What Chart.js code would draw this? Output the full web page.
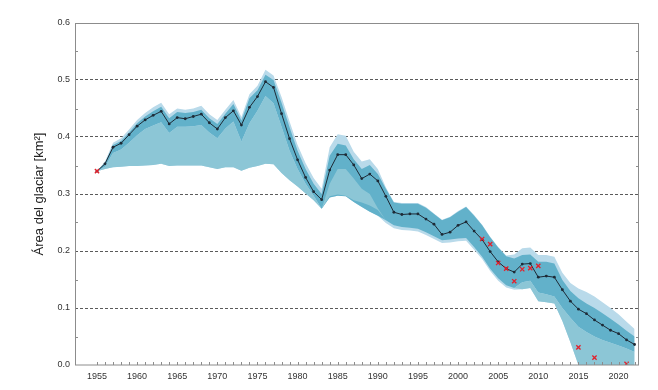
<!DOCTYPE html>
<html>
<head>
<meta charset="utf-8">
<script src="https://cdn.jsdelivr.net/npm/chart.js@4.4.0/dist/chart.umd.min.js"></script>
<style>
  body { margin: 0; background: #fff; }
  canvas { display: block; }
</style>
</head>
<body>
<canvas id="areaGlaciar" width="658" height="390"></canvas>
<script>
// años del modelo (1955-2022)
var years = []
for (var a = 1955; a <= 2022; a++) years.push(a)

// área modelada (línea negra)
var area = [
  0.340, 0.353, 0.382, 0.389, 0.404, 0.419, 0.430, 0.438, 0.445, 0.423,
  0.434, 0.432, 0.436, 0.440, 0.425, 0.414, 0.434, 0.446, 0.421, 0.452,
  0.471, 0.497, 0.487, 0.441, 0.397, 0.360, 0.329, 0.304, 0.290, 0.342,
  0.369, 0.369, 0.351, 0.327, 0.335, 0.323, 0.296, 0.268, 0.264, 0.265,
  0.265, 0.256, 0.247, 0.229, 0.233, 0.245, 0.251, 0.235, 0.220, 0.199,
  0.181, 0.169, 0.163, 0.177, 0.178, 0.154, 0.156, 0.154, 0.132, 0.112,
  0.098, 0.090, 0.079, 0.070, 0.061, 0.055, 0.044, 0.036
]

// banda exterior (celeste claro)
var outerTop = [
  0.340, 0.357, 0.390, 0.398, 0.413, 0.430, 0.442, 0.452, 0.460, 0.440,
  0.450, 0.448, 0.450, 0.455, 0.440, 0.430, 0.448, 0.465, 0.435, 0.475,
  0.490, 0.518, 0.508, 0.470, 0.427, 0.386, 0.354, 0.328, 0.309, 0.382,
  0.405, 0.402, 0.374, 0.357, 0.361, 0.344, 0.312, 0.286, 0.284, 0.284,
  0.284, 0.277, 0.266, 0.255, 0.260, 0.270, 0.278, 0.263, 0.246, 0.225,
  0.207, 0.192, 0.194, 0.205, 0.206, 0.193, 0.193, 0.190, 0.162, 0.144,
  0.134, 0.128, 0.120, 0.110, 0.100, 0.089, 0.076, 0.063
]
var outerBottom = [
  0.340, 0.344, 0.347, 0.348, 0.349, 0.349, 0.350, 0.351, 0.353, 0.349,
  0.350, 0.350, 0.350, 0.350, 0.347, 0.344, 0.347, 0.347, 0.341, 0.346,
  0.349, 0.353, 0.352, 0.337, 0.324, 0.313, 0.301, 0.289, 0.274, 0.294,
  0.297, 0.296, 0.286, 0.277, 0.269, 0.262, 0.249, 0.240, 0.237, 0.236,
  0.234, 0.228, 0.221, 0.214, 0.215, 0.217, 0.218, 0.202, 0.186, 0.165,
  0.148, 0.136, 0.132, 0.133, 0.135, 0.112, 0.110, 0.108, 0.077, 0.040,
  0, 0, 0, 0, 0, 0, 0, 0
]

// banda oscura alrededor de la línea
var darkTop = [
  0.340, 0.355, 0.386, 0.393, 0.408, 0.424, 0.436, 0.445, 0.453, 0.433,
  0.444, 0.442, 0.444, 0.448, 0.433, 0.423, 0.441, 0.458, 0.429, 0.468,
  0.482, 0.509, 0.500, 0.460, 0.417, 0.376, 0.344, 0.318, 0.300, 0.367,
  0.388, 0.385, 0.361, 0.344, 0.351, 0.335, 0.309, 0.285, 0.283, 0.283,
  0.283, 0.276, 0.265, 0.254, 0.259, 0.269, 0.277, 0.262, 0.245, 0.224,
  0.206, 0.191, 0.187, 0.193, 0.194, 0.181, 0.181, 0.178, 0.149, 0.130,
  0.117, 0.108, 0.100, 0.091, 0.081, 0.071, 0.060, 0.050
]
var darkBottom = [
  0.340, 0.348, 0.372, 0.378, 0.390, 0.403, 0.414, 0.420, 0.426, 0.407,
  0.418, 0.418, 0.419, 0.421, 0.408, 0.398, 0.415, 0.427, 0.392, 0.424,
  0.446, 0.472, 0.459, 0.418, 0.376, 0.344, 0.318, 0.297, 0.274, 0.294,
  0.297, 0.296, 0.286, 0.277, 0.269, 0.262, 0.254, 0.245, 0.242, 0.241,
  0.239, 0.233, 0.226, 0.219, 0.220, 0.222, 0.223, 0.207, 0.190, 0.169,
  0.152, 0.140, 0.135, 0.145, 0.148, 0.127, 0.124, 0.120, 0.100, 0.083,
  0.067, 0.058, 0.050, 0.044, 0.039, 0.034, 0.029, 0.023
]

// banda intermedia (debajo / dentro de la oscura)
var midTop = [
  0.340, 0.348, 0.372, 0.378, 0.390, 0.403, 0.414, 0.420, 0.426, 0.407,
  0.418, 0.418, 0.419, 0.421, 0.408, 0.398, 0.415, 0.427, 0.392, 0.424,
  0.446, 0.472, 0.459, 0.418, 0.376, 0.344, 0.318, 0.297, 0.274, 0.318,
  0.344, 0.344, 0.327, 0.309, 0.300, 0.275, 0.254, 0.245, 0.242, 0.241,
  0.239, 0.233, 0.226, 0.219, 0.220, 0.222, 0.223, 0.207, 0.190, 0.169,
  0.152, 0.140, 0.135, 0.145, 0.148, 0.127, 0.124, 0.120, 0.100, 0.083,
  0.067, 0.058, 0.050, 0.044, 0.039, 0.034, 0.029, 0.023
]
var midBottom = [
  0.340, 0.344, 0.347, 0.348, 0.349, 0.349, 0.350, 0.351, 0.353, 0.349,
  0.350, 0.350, 0.350, 0.350, 0.347, 0.344, 0.347, 0.347, 0.341, 0.346,
  0.349, 0.353, 0.352, 0.337, 0.324, 0.313, 0.301, 0.289, 0.274, 0.296,
  0.299, 0.297, 0.289, 0.285, 0.280, 0.272, 0.254, 0.245, 0.242, 0.241,
  0.239, 0.233, 0.226, 0.219, 0.220, 0.222, 0.223, 0.207, 0.190, 0.169,
  0.152, 0.140, 0.135, 0.133, 0.135, 0.112, 0.110, 0.108, 0.077, 0.040,
  0, 0, 0, 0, 0, 0, 0, 0
]

// áreas observadas (cruces rojas)
var obsYears = [1955, 2003, 2004, 2005, 2006, 2007, 2008, 2009, 2010, 2015, 2017, 2021]
var obsArea = [0.340, 0.221, 0.212, 0.179, 0.169, 0.147, 0.168, 0.170, 0.174, 0.031, 0.013, 0.002]

// ticks
var xTicks = [1955, 1960, 1965, 1970, 1975, 1980, 1985, 1990, 1995, 2000, 2005, 2010, 2015, 2020]
var yTicks = [0, 0.1, 0.2, 0.3, 0.4, 0.5, 0.6]
var yMinorTicks = [0.05, 0.15, 0.25, 0.35, 0.45, 0.55]

function pts(vals) {
  return vals.map((v, i) => ({ x: years[i], y: v }))
}

function banda(vals, color, order, fill) {
  return {
    data: pts(vals),
    borderWidth: 0,
    pointRadius: 0,
    backgroundColor: color,
    fill: fill,
    order: order
  }
}

// marco gris y marcas pequeñas hacia adentro
var marco = {
  id: 'marco',
  afterDatasetsDraw(chart) {
    var ctx = chart.ctx
    var ca = chart.chartArea
    var sx = chart.scales.x
    var sy = chart.scales.y
    ctx.save()
    ctx.strokeStyle = '#8c8c8c'
    ctx.lineWidth = 1
    ctx.strokeRect(ca.left + 0.5, ca.top + 0.5, ca.right - ca.left - 1, ca.bottom - ca.top - 0.5)
    ctx.beginPath()
    years.forEach(yr => {
      var px = Math.round(sx.getPixelForValue(yr)) + 0.5
      ctx.moveTo(px, ca.bottom)
      ctx.lineTo(px, ca.bottom - 3)
    })
    yMinorTicks.forEach(v => {
      var py = Math.round(sy.getPixelForValue(v)) + 0.5
      ctx.moveTo(ca.left, py)
      ctx.lineTo(ca.left + 3, py)
      ctx.moveTo(ca.right, py)
      ctx.lineTo(ca.right - 3, py)
    })
    ctx.stroke()
    ctx.restore()
  }
}

var plot = document.getElementById('areaGlaciar')

new Chart(plot, {
  type: 'line',
  data: {
    datasets: [
      // línea del modelo
      {
        data: pts(area),
        borderColor: '#1e2a36',
        borderWidth: 1,
        pointRadius: 1.4,
        pointBackgroundColor: '#1e2a36',
        pointBorderWidth: 0,
        fill: false,
        order: 1
      },
      // observaciones
      {
        type: 'scatter',
        data: obsYears.map((yr, i) => ({ x: yr, y: obsArea[i] })),
        pointStyle: 'crossRot',
        pointRadius: 3,
        borderColor: '#e3202c',
        borderWidth: 1.3,
        order: 0
      },
      banda(outerTop, '#b9daea', 6, '+1'),
      banda(outerBottom, '#b9daea', 6, false),
      banda(darkTop, '#62b1ca', 5, '+1'),
      banda(darkBottom, '#62b1ca', 5, false),
      banda(midTop, '#8cc6d6', 4, '+1'),
      banda(midBottom, '#8cc6d6', 4, false)
    ]
  },
  options: {
    responsive: false,
    animation: false,
    layout: { padding: { top: 23, right: 19, left: 0, bottom: 0 } },
    plugins: {
      legend: { display: false },
      tooltip: { enabled: false }
    },
    scales: {
      x: {
        type: 'linear',
        min: 1952.26,
        max: 2022.55,
        afterBuildTicks: s => { s.ticks = xTicks.map(v => ({ value: v })) },
        afterFit: s => { s.height = 25 },
        grid: { display: false, drawTicks: false },
        border: { display: false },
        ticks: {
          callback: v => String(v),
          padding: 6,
          maxRotation: 0,
          color: '#333',
          font: { family: 'Liberation Sans', size: 9 }
        }
      },
      y: {
        min: 0,
        max: 0.6,
        afterBuildTicks: s => { s.ticks = yTicks.map(v => ({ value: v })) },
        afterFit: s => { s.width = 75 },
        grid: {
          drawTicks: false,
          color: c => (c.tick && c.tick.value > 0.01 && c.tick.value < 0.59) ? '#5a5a5a' : 'rgba(0,0,0,0)',
          lineWidth: 1
        },
        border: { display: false, dash: [3, 2] },
        ticks: {
          callback: v => v.toFixed(1),
          padding: 5,
          color: '#333',
          font: { family: 'Liberation Sans', size: 9 }
        },
        title: {
          display: true,
          text: 'Área del glaciar [km²]',
          color: '#222',
          padding: { top: 32, bottom: 0 },
          font: { family: 'Liberation Sans', size: 13 }
        }
      }
    }
  },
  plugins: [marco]
})
</script>
</body>
</html>
